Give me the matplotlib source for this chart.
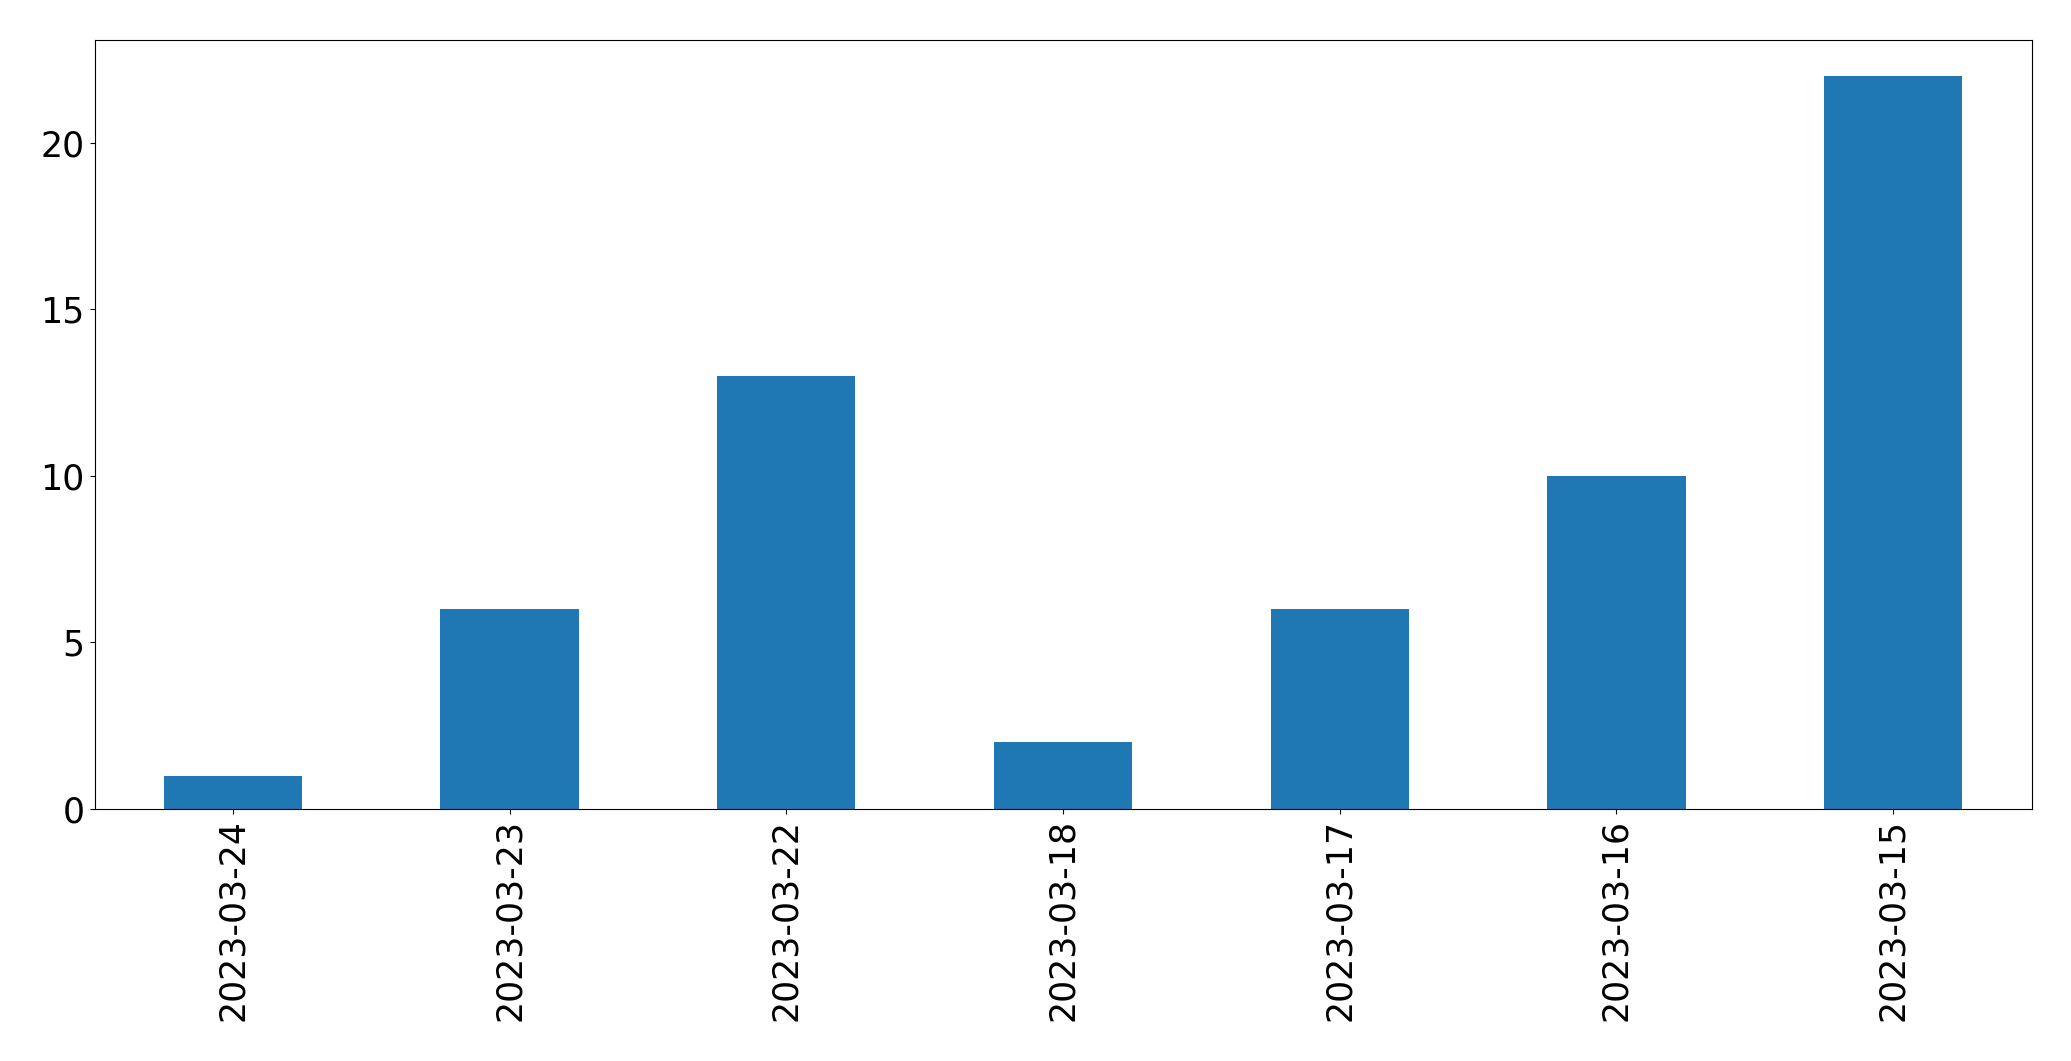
import pandas as pd
import matplotlib
matplotlib.use("Agg")
import matplotlib.pyplot as plt

dates = ["2023-03-24", "2023-03-23", "2023-03-22", "2023-03-18",
         "2023-03-17", "2023-03-16", "2023-03-15"]
counts = [1, 6, 13, 2, 6, 10, 22]

s = pd.Series(counts, index=dates)

fig = plt.figure(figsize=(20.71, 10.61), dpi=100)
ax = fig.add_axes([94.5 / 2071, 1 - 809 / 1061, (2031.5 - 94.5) / 2071, (809 - 39.5) / 1061])
s.plot(kind="bar", ax=ax, color="#1f77b4")
ax.tick_params(axis="both", labelsize=25)
ax.set_xlabel("")

fig.savefig("out.png", dpi=100)
